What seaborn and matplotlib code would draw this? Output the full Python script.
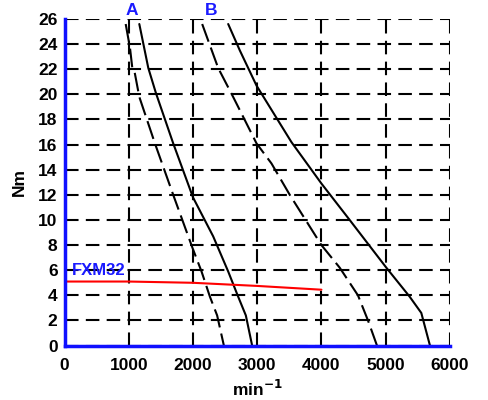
import matplotlib
matplotlib.use("Agg")
import matplotlib.pyplot as plt
import seaborn as sns
import pandas as pd

sns.set_theme(style="white")
plt.rcParams["font.family"] = ["Liberation Sans", "DejaVu Sans"]
plt.rcParams["text.color"] = "black"
plt.rcParams["axes.labelcolor"] = "black"
plt.rcParams["xtick.color"] = "black"
plt.rcParams["ytick.color"] = "black"

# Speed-torque characteristics (speed in min^-1, torque in Nm)
a_dash_speed = [952, 1019, 1055, 1090, 1164, 1407, 1692, 1994, 2133, 2263, 2376, 2481]
a_dash_torque = [25.6, 23.7, 22.1, 21.8, 19.8, 16.1, 12.0, 7.75, 5.9, 3.9, 2.4, 0.0]

a_solid_speed = [1164, 1304, 1423, 1692, 2000, 2314, 2548, 2703, 2823, 2921]
a_solid_torque = [25.6, 22.1, 20.1, 16.1, 11.8, 8.7, 5.9, 3.9, 2.4, 0.0]

b_dash_speed = [2143, 2392, 2625, 2989, 3222, 3507, 4000, 4285, 4569, 4725, 4865]
b_dash_torque = [25.6, 22.1, 19.8, 16.1, 14.5, 12.0, 8.0, 6.2, 4.0, 2.0, 0.0]

b_solid_speed = [2548, 2729, 2989, 3533, 4000, 4440, 5011, 5373, 5555, 5690]
b_solid_torque = [25.6, 23.5, 20.7, 16.2, 12.9, 10.0, 6.2, 3.9, 2.6, 0.0]

fxm_speed = [0, 1000, 2000, 3000, 4000]
fxm_torque = [5.1, 5.1, 5.0, 4.75, 4.45]

x_ticks = [0, 1000, 2000, 3000, 4000, 5000, 6000]
y_ticks = list(range(0, 27, 2))

fig = plt.figure(figsize=(4.89, 4.00), dpi=100)
ax = fig.add_axes([0.132, 0.136, 0.788, 0.8165])

dash = (9, 3)
curves = [
    (a_dash_speed, a_dash_torque, True),
    (a_solid_speed, a_solid_torque, False),
    (b_dash_speed, b_dash_torque, True),
    (b_solid_speed, b_solid_torque, False),
]
for sp, tq, dashed in curves:
    df = pd.DataFrame({"speed": sp, "torque": tq})
    line = sns.lineplot(data=df, x="speed", y="torque", sort=False,
                        estimator=None, color="black", lw=1.5, ax=ax)
    if dashed:
        line.lines[-1].set_dashes(dash)

df_fxm = pd.DataFrame({"speed": fxm_speed, "torque": fxm_torque})
sns.lineplot(data=df_fxm, x="speed", y="torque", sort=False, estimator=None,
             color="red", lw=1.5, ax=ax)

ax.set_xlim(0, 6000)
ax.set_ylim(0, 26)
ax.set_xticks(x_ticks)
ax.set_yticks(y_ticks)
ax.set_xticklabels([str(v) for v in x_ticks], fontsize=12.5, fontweight="bold")
ax.set_yticklabels([str(v) for v in y_ticks], fontsize=12.5, fontweight="bold")
ax.tick_params(axis="y", length=0, pad=5)
ax.tick_params(axis="x", length=0, pad=9)

ax.grid(True, color="black", linestyle=(0, (6.5, 3.5)), linewidth=1.5)
ax.set_axisbelow(True)
for s in ["top", "right"]:
    ax.spines[s].set_visible(False)
for s in ["left", "bottom"]:
    ax.spines[s].set_color("#1010ff")
    ax.spines[s].set_linewidth(2.5)
    ax.spines[s].set_zorder(5)

ax.set_xlabel("min$^{\\mathbf{-1}}$", fontsize=12.5, fontweight="bold", labelpad=4)
ax.set_ylabel("Nm", fontsize=12.5, fontweight="bold", labelpad=8)

ax.text(1045, 26.1, "A", color="#1a1aff", fontsize=12.5, fontweight="bold",
        ha="center", va="bottom")
ax.text(2278, 26.1, "B", color="#1a1aff", fontsize=12.5, fontweight="bold",
        ha="center", va="bottom")
ax.text(110, 5.95, "FXM32", color="#1a1aff", fontsize=12, fontweight="bold",
        ha="left", va="center")

fig.savefig("out.png", dpi=100)
